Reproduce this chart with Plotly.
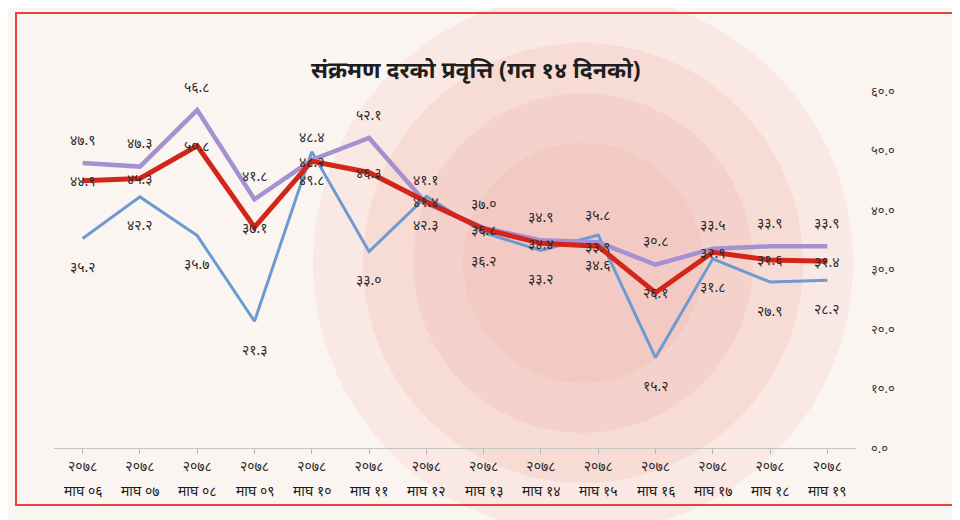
import plotly.graph_objects as go

# --- Data ---
YEAR = "२०७८"
DAYS = ["माघ ०६", "माघ ०७", "माघ ०८", "माघ ०९", "माघ १०", "माघ ११", "माघ १२",
        "माघ १३", "माघ १४", "माघ १५", "माघ १६", "माघ १७", "माघ १८", "माघ १९"]

purple = [47.9, 47.3, 56.8, 41.8, 48.4, 52.1, 41.1, 37.0, 34.9, 34.6, 30.8, 33.5, 33.9, 33.9]
red = [44.9, 45.3, 50.8, 37.1, 48.2, 46.3, 41.4, 36.8, 34.4, 33.9, 26.1, 32.9, 31.6, 31.4]
blue = [35.2, 42.2, 35.7, 21.3, 49.8, 33.0, 42.3, 36.2, 33.2, 35.8, 15.2, 31.8, 27.9, 28.2]

y_ticks = [0, 10, 20, 30, 40, 50, 60]

TITLE = "संक्रमण दरको प्रवृत्ति (गत १४ दिनको)"

NEP = str.maketrans("0123456789", "०१२३४५६७८९")


def nep(v):
    return f"{v:.1f}".translate(NEP)


FONT = "Noto Sans"
cats = list(range(len(DAYS)))

L, R, T, B = 46, 112, 83, 80
PW, PH = 960 - L - R, 520 - T - B


def px(xp):
    return (xp - L) / PW


def py(yp):
    return (520 - B - yp) / PH


fig = go.Figure()

# (values, colour, width, default label shift, per-point shift overrides)
series = [
    (blue, "#6d9bd1", 3, -28, {9: 20}),
    (purple, "#a590d2", 4.5, 24, {9: -22}),
    (red, "#d3261b", 5, 0, {}),
]
for vals, color, width, shift, extra in series:
    fig.add_trace(go.Scatter(
        x=cats, y=vals, mode="lines",
        line=dict(color=color, width=width),
        hoverinfo="skip", showlegend=False,
    ))

annotations = []
for vals, color, width, shift, extra in series:
    for x, v in zip(cats, vals):
        annotations.append(dict(
            x=x, y=v, xref="x", yref="y", text=nep(v), showarrow=False,
            yshift=extra.get(x, shift),
            font=dict(family=FONT, size=14, color="#2a2a2a"),
        ))

# second line of the x labels (month + day)
for x, d in zip(cats, DAYS):
    annotations.append(dict(
        x=x, y=0, xref="x", yref="paper", text=d, showarrow=False,
        yshift=-54, font=dict(family=FONT, size=14, color="#1a1a1a"),
    ))

annotations.append(dict(
    x=px(468), y=py(43), xref="paper", yref="paper", text=f"<b>{TITLE}</b>",
    showarrow=False, font=dict(family=FONT, size=23, color="#1e1e1e"),
))

# soft concentric blobs standing in for the background photo
shapes = []
cx, cy = 575, 255
for rad, alpha in [(270, 0.10), (220, 0.10), (170, 0.10), (120, 0.08)]:
    shapes.append(dict(
        type="circle", xref="paper", yref="paper", layer="below",
        x0=px(cx - rad), x1=px(cx + rad), y0=py(cy + rad), y1=py(cy - rad),
        fillcolor=f"rgba(234,120,108,{alpha})", line=dict(width=0)))
# red frame
shapes.append(dict(type="rect", xref="paper", yref="paper",
                   x0=px(8), x1=px(945), y0=py(497), y1=py(5),
                   line=dict(color="#e5433b", width=2)))

fig.update_layout(
    width=960, height=520,
    margin=dict(l=L, r=R, t=T, b=B),
    paper_bgcolor="#fbf5f1",
    plot_bgcolor="rgba(0,0,0,0)",
    font=dict(family=FONT, size=13, color="#2a2a2a"),
    annotations=annotations,
    shapes=shapes,
    xaxis=dict(
        range=[-0.5, len(DAYS) - 0.5],
        tickmode="array", tickvals=cats, ticktext=[YEAR] * len(DAYS),
        tickson="boundaries", ticks="outside", ticklen=5, tickcolor="#b5b5b5",
        showline=True, linecolor="#c4c4c4", linewidth=1,
        showgrid=False, zeroline=False,
        tickfont=dict(family=FONT, size=14, color="#2a2a2a"),
    ),
    yaxis=dict(
        side="right", range=[0, 60],
        tickmode="array", tickvals=y_ticks, ticktext=[nep(v) for v in y_ticks],
        showgrid=False, zeroline=False, showline=False, ticks="",
        ticklabelstandoff=14,
        tickfont=dict(family=FONT, size=13, color="#3a3a3a"),
    ),
)

fig.write_html("out.html")
